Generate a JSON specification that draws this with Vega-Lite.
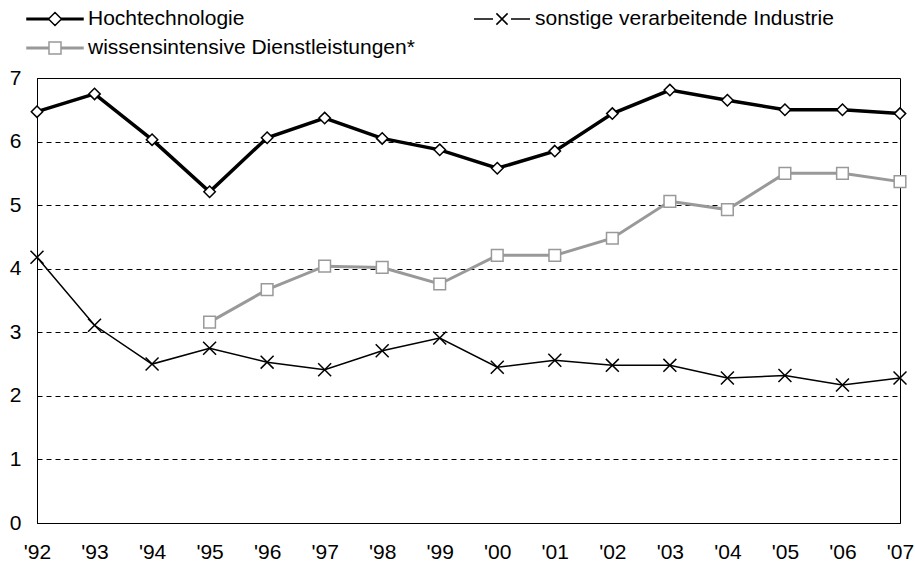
{
  "$schema": "https://vega.github.io/schema/vega-lite/v6.json",
  "width": 863,
  "height": 445,
  "autosize": {"type": "none"},
  "padding": {"left": 37, "top": 78, "right": 15, "bottom": 42},
  "background": "white",
  "config": {
    "view": {"stroke": "#000000", "strokeWidth": 1},
    "font": "Liberation Sans"
  },
  "data": {
    "values": [
      {"year": "'92", "series": "Hochtechnologie", "value": 6.47},
      {"year": "'93", "series": "Hochtechnologie", "value": 6.75},
      {"year": "'94", "series": "Hochtechnologie", "value": 6.03},
      {"year": "'95", "series": "Hochtechnologie", "value": 5.21},
      {"year": "'96", "series": "Hochtechnologie", "value": 6.06},
      {"year": "'97", "series": "Hochtechnologie", "value": 6.37},
      {"year": "'98", "series": "Hochtechnologie", "value": 6.05},
      {"year": "'99", "series": "Hochtechnologie", "value": 5.87},
      {"year": "'00", "series": "Hochtechnologie", "value": 5.58},
      {"year": "'01", "series": "Hochtechnologie", "value": 5.85},
      {"year": "'02", "series": "Hochtechnologie", "value": 6.44},
      {"year": "'03", "series": "Hochtechnologie", "value": 6.81},
      {"year": "'04", "series": "Hochtechnologie", "value": 6.65},
      {"year": "'05", "series": "Hochtechnologie", "value": 6.5},
      {"year": "'06", "series": "Hochtechnologie", "value": 6.5},
      {"year": "'07", "series": "Hochtechnologie", "value": 6.44},
      {"year": "'92", "series": "sonstige verarbeitende Industrie", "value": 4.18},
      {"year": "'93", "series": "sonstige verarbeitende Industrie", "value": 3.11},
      {"year": "'94", "series": "sonstige verarbeitende Industrie", "value": 2.5},
      {"year": "'95", "series": "sonstige verarbeitende Industrie", "value": 2.75},
      {"year": "'96", "series": "sonstige verarbeitende Industrie", "value": 2.53},
      {"year": "'97", "series": "sonstige verarbeitende Industrie", "value": 2.41},
      {"year": "'98", "series": "sonstige verarbeitende Industrie", "value": 2.71},
      {"year": "'99", "series": "sonstige verarbeitende Industrie", "value": 2.91},
      {"year": "'00", "series": "sonstige verarbeitende Industrie", "value": 2.45},
      {"year": "'01", "series": "sonstige verarbeitende Industrie", "value": 2.56},
      {"year": "'02", "series": "sonstige verarbeitende Industrie", "value": 2.48},
      {"year": "'03", "series": "sonstige verarbeitende Industrie", "value": 2.48},
      {"year": "'04", "series": "sonstige verarbeitende Industrie", "value": 2.28},
      {"year": "'05", "series": "sonstige verarbeitende Industrie", "value": 2.32},
      {"year": "'06", "series": "sonstige verarbeitende Industrie", "value": 2.17},
      {"year": "'07", "series": "sonstige verarbeitende Industrie", "value": 2.28},
      {"year": "'95", "series": "wissensintensive Dienstleistungen*", "value": 3.16},
      {"year": "'96", "series": "wissensintensive Dienstleistungen*", "value": 3.67},
      {"year": "'97", "series": "wissensintensive Dienstleistungen*", "value": 4.04},
      {"year": "'98", "series": "wissensintensive Dienstleistungen*", "value": 4.02},
      {"year": "'99", "series": "wissensintensive Dienstleistungen*", "value": 3.76},
      {"year": "'00", "series": "wissensintensive Dienstleistungen*", "value": 4.21},
      {"year": "'01", "series": "wissensintensive Dienstleistungen*", "value": 4.21},
      {"year": "'02", "series": "wissensintensive Dienstleistungen*", "value": 4.48},
      {"year": "'03", "series": "wissensintensive Dienstleistungen*", "value": 5.06},
      {"year": "'04", "series": "wissensintensive Dienstleistungen*", "value": 4.93},
      {"year": "'05", "series": "wissensintensive Dienstleistungen*", "value": 5.5},
      {"year": "'06", "series": "wissensintensive Dienstleistungen*", "value": 5.5},
      {"year": "'07", "series": "wissensintensive Dienstleistungen*", "value": 5.37}
    ]
  },
  "encoding": {
    "x": {
      "field": "year",
      "type": "ordinal",
      "scale": {"type": "point", "padding": 0, "domain": ["'92", "'93", "'94", "'95", "'96", "'97", "'98", "'99", "'00", "'01", "'02", "'03", "'04", "'05", "'06", "'07"]},
      "axis": {
        "title": null,
        "labelAngle": 0,
        "ticks": false,
        "grid": false,
        "domain": true,
        "domainColor": "#000000",
        "domainWidth": 1,
        "labelPadding": 18,
        "labelFontSize": 21,
        "labelFont": "Liberation Sans",
        "labelColor": "#000000"
      }
    },
    "y": {
      "field": "value",
      "type": "quantitative",
      "scale": {"domain": [0, 7], "nice": false, "zero": true},
      "axis": {
        "title": null,
        "values": [0, 1, 2, 3, 4, 5, 6, 7],
        "ticks": false,
        "grid": true,
        "gridColor": "#000000",
        "gridDash": [5, 4],
        "gridWidth": 1,
        "domain": true,
        "domainColor": "#000000",
        "domainWidth": 1,
        "labelPadding": 16,
        "labelFontSize": 21,
        "labelFont": "Liberation Sans",
        "labelColor": "#000000"
      }
    }
  },
  "layer": [
    {
      "transform": [{"filter": "datum.series === 'sonstige verarbeitende Industrie'"}],
      "mark": {"type": "line", "color": "#000000", "strokeWidth": 1.5}
    },
    {
      "transform": [{"filter": "datum.series === 'wissensintensive Dienstleistungen*'"}],
      "mark": {"type": "line", "color": "#999999", "strokeWidth": 3}
    },
    {
      "transform": [{"filter": "datum.series === 'Hochtechnologie'"}],
      "mark": {"type": "line", "color": "#000000", "strokeWidth": 3.5}
    },
    {
      "mark": {"type": "point", "filled": true, "fill": "#ffffff", "opacity": 1, "strokeWidth": 1.5, "size": 144},
      "encoding": {
        "shape": {
          "field": "series",
          "type": "nominal",
          "scale": {
            "domain": ["Hochtechnologie", "sonstige verarbeitende Industrie", "wissensintensive Dienstleistungen*"],
            "range": ["M0,-0.95L0.95,0L0,0.95L-0.95,0Z", "M-1.08,-1.08L1.08,1.08M-1.08,1.08L1.08,-1.08", "M-0.97,-0.97H0.97V0.97H-0.97Z"]
          },
          "legend": null
        },
        "stroke": {
          "field": "series",
          "type": "nominal",
          "scale": {
            "domain": ["Hochtechnologie", "sonstige verarbeitende Industrie", "wissensintensive Dienstleistungen*"],
            "range": ["#000000", "#000000", "#999999"]
          },
          "legend": null
        }
      }
    },
    {
      "mark": {"type": "point", "opacity": 0, "strokeWidth": 1.5},
      "encoding": {
        "shape": {
          "field": "series",
          "type": "nominal",
          "scale": {
            "domain": ["Hochtechnologie", "sonstige verarbeitende Industrie", "wissensintensive Dienstleistungen*"],
            "range": [
              "M-2.8,-0.075H-0.65V0.075H-2.8ZM0.65,-0.075H2.8V0.075H0.65ZM0,-0.65L0.65,0L0,0.65L-0.65,0Z",
              "M-2.8,0H-0.9M0.9,0H2.8M-0.56,-0.56L0.56,0.56M-0.56,0.56L0.56,-0.56",
              "M-2.8,-0.075H-0.6V0.075H-2.8ZM0.6,-0.075H2.8V0.075H0.6ZM-0.6,-0.6H0.6V0.6H-0.6Z"
            ]
          },
          "legend": {
            "title": null,
            "orient": "none",
            "legendX": -10,
            "legendY": -70,
            "direction": "horizontal",
            "columns": 2,
            "columnPadding": 56,
            "rowPadding": 8,
            "padding": 0,
            "symbolSize": 400,
            "symbolOffset": 17,
            "symbolStrokeWidth": 1.5,
            "labelOffset": 22,
            "labelFontSize": 21,
            "labelFont": "Liberation Sans",
            "labelColor": "#000000",
            "labelLimit": 600
          }
        },
        "stroke": {
          "field": "series",
          "type": "nominal",
          "scale": {
            "domain": ["Hochtechnologie", "sonstige verarbeitende Industrie", "wissensintensive Dienstleistungen*"],
            "range": ["#000000", "#000000", "#999999"]
          },
          "legend": {
            "title": null,
            "orient": "none",
            "legendX": -10,
            "legendY": -70,
            "direction": "horizontal",
            "columns": 2,
            "columnPadding": 56,
            "rowPadding": 8,
            "padding": 0,
            "symbolSize": 400,
            "symbolOffset": 17,
            "symbolStrokeWidth": 1.5,
            "labelOffset": 22,
            "labelFontSize": 21,
            "labelFont": "Liberation Sans",
            "labelColor": "#000000",
            "labelLimit": 600
          }
        }
      }
    }
  ],
  "resolve": {"scale": {"shape": "independent", "stroke": "independent"}}
}
